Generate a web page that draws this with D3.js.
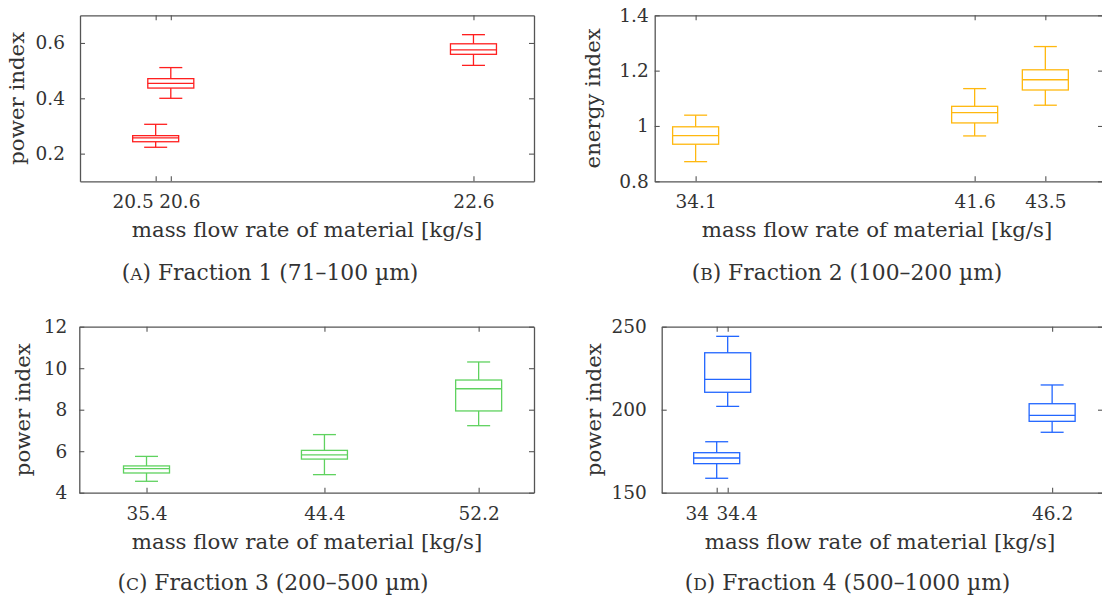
<!DOCTYPE html>
<html>
<head>
<meta charset="utf-8">
<script src="https://cdn.jsdelivr.net/npm/d3@7"></script>
<style>
  html, body { margin: 0; padding: 0; background: #fff; }
  svg { display: block; }
  text { font-family: "DejaVu Serif", serif; fill: #333; }
</style>
</head>
<body>
<svg id="chart" width="1102" height="596"></svg>
<script>
// ---------- data ----------
// each box: [lower whisker, Q1, median, Q3, upper whisker]
const f1Flow = [20.5, 20.6, 22.6];
const f1Box = [
  [0.223, 0.243, 0.257, 0.265, 0.306],
  [0.400, 0.437, 0.454, 0.471, 0.511],
  [0.519, 0.559, 0.575, 0.597, 0.630]
];
const f1YTicks = [0.2, 0.4, 0.6];

const f2Flow = [34.1, 41.6, 43.5];
const f2Box = [
  [0.871, 0.934, 0.965, 0.997, 1.039],
  [0.964, 1.011, 1.048, 1.071, 1.135],
  [1.075, 1.130, 1.167, 1.203, 1.287]
];
const f2YTicks = [0.8, 1.0, 1.2, 1.4];

const f3Flow = [35.4, 44.4, 52.2];
const f3Box = [
  [4.55, 4.95, 5.16, 5.29, 5.75],
  [4.87, 5.62, 5.82, 6.04, 6.80],
  [7.23, 7.94, 9.01, 9.43, 10.30]
];
const f3YTicks = [4, 6, 8, 10, 12];

const f4Flow = [34, 34.4, 46.2];
const f4Box = [
  [158.7, 167.5, 170.9, 174.1, 180.7],
  [202.0, 210.5, 218.3, 234.3, 244.2],
  [186.4, 193.0, 196.6, 203.6, 214.9]
];
const f4YTicks = [150, 200, 250];

const xLabel = "mass flow rate of material [kg/s]";
const yLabels = ["power index", "energy index", "power index", "power index"];
const capLetters = ["A", "B", "C", "D"];
const capTexts = [" Fraction 1 (71–100 µm)", " Fraction 2 (100–200 µm)", " Fraction 3 (200–500 µm)", " Fraction 4 (500–1000 µm)"];

// ---------- layout / style ----------
const panels = [
  { flow: f1Flow, box: f1Box, yTicks: f1YTicks, xDom: [20, 23], yDom: [0.1, 0.7],
    left: 80, right: 534, top: 15.3, bottom: 181.3, color: "#ff1f1f",
    tickGap: 15, yLabX: 24, xLabCx: 307, capCx: 270, capY: 280, lblShift: [-23, 8.5, 0] },
  { flow: f2Flow, box: f2Box, yTicks: f2YTicks, xDom: [33, 45.05], yDom: [0.8, 1.4],
    left: 654.7, right: 1103, top: 15.3, bottom: 181.3, color: "#ffb80f",
    tickGap: 6, yLabX: 600, xLabCx: 877, capCx: 847, capY: 280, lblShift: [0, 0, 0] },
  { flow: f3Flow, box: f3Box, yTicks: f3YTicks, xDom: [32, 55], yDom: [4, 12],
    left: 79.3, right: 534, top: 326.7, bottom: 492.7, color: "#5fd25f",
    tickGap: 12, yLabX: 30, xLabCx: 307, capCx: 273, capY: 590, lblShift: [0, 0, 0] },
  { flow: f4Flow, box: f4Box, yTicks: f4YTicks, xDom: [32, 48.05], yDom: [150, 250],
    left: 661.7, right: 1103, top: 326.7, bottom: 492.7, color: "#2266ff",
    tickGap: 15, yLabX: 601, xLabCx: 880, capCx: 847.5, capY: 590, lblShift: [-20, 9, 0] }
];

const svg = d3.select("#chart");
const axisColor = "#555";
const tickFont = 18.5, labelFont = 21.3, capFont = 21.8;
const halfBox = 23, halfCap = 11.5;
const fmt = d3.format("~g");

panels.forEach((p, i) => {
  const x = d3.scaleLinear().domain(p.xDom).range([p.left, p.right]);
  const y = d3.scaleLinear().domain(p.yDom).range([p.bottom, p.top]);
  const g = svg.append("g");

  // axes (ticks pointing inward)
  const styleAxis = sel => {
    sel.attr("color", axisColor);
    sel.select(".domain").attr("stroke-width", 1.3);
    sel.selectAll(".tick line").attr("stroke-width", 1.1);
    sel.selectAll("text").style("font-size", tickFont + "px").attr("fill", "#333").attr("font-family", "DejaVu Serif");
  };
  const xb = g.append("g").attr("transform", `translate(0,${p.bottom})`)
    .call(d3.axisBottom(x).tickValues(p.flow).tickFormat(fmt).tickSize(-5).tickSizeOuter(0).tickPadding(14))
    .call(styleAxis);
  xb.selectAll(".tick text").attr("dx", (d, j) => p.lblShift[j]);
  g.append("g").attr("transform", `translate(0,${p.top})`)
    .call(d3.axisTop(x).tickValues(p.flow).tickFormat("").tickSize(-5).tickSizeOuter(0))
    .call(styleAxis);
  g.append("g").attr("transform", `translate(${p.left},0)`)
    .call(d3.axisLeft(y).tickValues(p.yTicks).tickFormat(fmt).tickSize(-5).tickSizeOuter(0).tickPadding(p.tickGap))
    .call(styleAxis);
  g.append("g").attr("transform", `translate(${p.right},0)`)
    .call(d3.axisRight(y).tickValues(p.yTicks).tickFormat("").tickSize(-5).tickSizeOuter(0))
    .call(styleAxis);

  // boxes
  const bg = g.append("g").attr("stroke", p.color).attr("stroke-width", 1.3).attr("fill", "none");
  p.box.forEach((b, j) => {
    const cx = x(p.flow[j]);
    const [lo, q1, med, q3, hi] = b;
    bg.append("line").attr("x1", cx).attr("x2", cx).attr("y1", y(hi)).attr("y2", y(q3));
    bg.append("line").attr("x1", cx).attr("x2", cx).attr("y1", y(q1)).attr("y2", y(lo));
    bg.append("line").attr("x1", cx - halfCap).attr("x2", cx + halfCap).attr("y1", y(hi)).attr("y2", y(hi));
    bg.append("line").attr("x1", cx - halfCap).attr("x2", cx + halfCap).attr("y1", y(lo)).attr("y2", y(lo));
    bg.append("rect").attr("x", cx - halfBox).attr("width", 2 * halfBox)
      .attr("y", y(q3)).attr("height", y(q1) - y(q3));
    bg.append("line").attr("x1", cx - halfBox).attr("x2", cx + halfBox).attr("y1", y(med)).attr("y2", y(med));
  });

  // axis labels
  g.append("text").attr("x", p.xLabCx).attr("y", p.bottom + 56)
    .attr("text-anchor", "middle").style("font-size", labelFont + "px").text(xLabel);
  g.append("text")
    .attr("transform", `translate(${p.yLabX},${(p.top + p.bottom) / 2}) rotate(-90)`)
    .attr("text-anchor", "middle").style("font-size", labelFont + "px").text(yLabels[i]);

  // caption
  const cap = g.append("text").attr("x", p.capCx).attr("y", p.capY)
    .attr("text-anchor", "middle").style("font-size", capFont + "px");
  cap.append("tspan").text("(");
  cap.append("tspan").style("font-size", (capFont * 0.78) + "px").text(capLetters[i]);
  cap.append("tspan").text(")");
  cap.append("tspan").text(capTexts[i]);
});
</script>
</body>
</html>
